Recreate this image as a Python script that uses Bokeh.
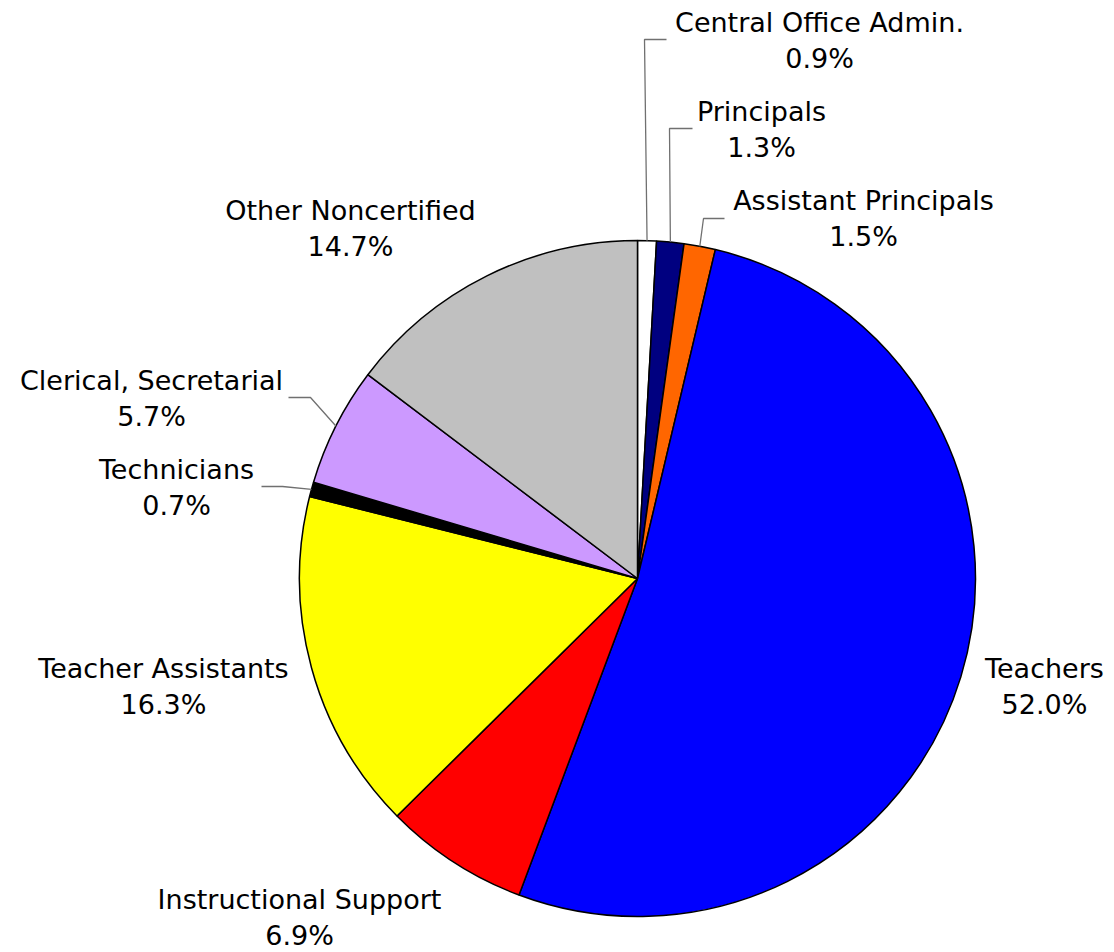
import math
from bokeh.plotting import figure
from bokeh.models import Range1d
from bokeh.core.properties import value
from bokeh.embed import file_html
from bokeh.resources import INLINE

# ---- data ----
categories = ["Central Office Admin.", "Principals", "Assistant Principals", "Teachers",
              "Instructional Support", "Teacher Assistants", "Technicians",
              "Clerical, Secretarial", "Other Noncertified"]
percents = [0.9, 1.3, 1.5, 52.0, 6.9, 16.3, 0.7, 5.7, 14.7]
colors = ["#FFFFFF", "#000080", "#FF6600", "#0000FF", "#FF0000", "#FFFF00",
          "#000000", "#CC99FF", "#C0C0C0"]

# ---- layout (pixel coordinates, y measured from top) ----
W, H = 1114, 952
CX, CY, R = 637, 578, 338
label_pos = {
    "Central Office Admin.": (819, 22),
    "Principals": (761, 111),
    "Assistant Principals": (863, 200),
    "Teachers": (1044, 668),
    "Instructional Support": (299, 899),
    "Teacher Assistants": (163, 668),
    "Technicians": (176, 469),
    "Clerical, Secretarial": (151, 380),
    "Other Noncertified": (350, 210),
}
# leader lines: elbow points after the slice edge point
leaders = {
    "Central Office Admin.": [(644, 39), (666, 39)],
    "Principals": [(669, 128), (692, 128)],
    "Assistant Principals": [(703, 218), (724, 218)],
    "Clerical, Secretarial": [(310, 397), (288, 397)],
    "Technicians": [(282, 486), (261, 486)],
}
LINE_GAP = 36
FONT = "DejaVu Sans"
FSIZE = "27px"

def fy(y):
    return H - y

p = figure(width=W, height=H, x_range=Range1d(0, W), y_range=Range1d(0, H),
           output_backend="svg", toolbar_location=None, min_border=0)
p.axis.visible = False
p.grid.visible = False
p.outline_line_color = None
p.background_fill_color = "white"
p.border_fill_color = "white"

total = sum(percents)
cum = 0.0
starts, ends, mids = [], [], []
for v in percents:
    a0 = math.pi / 2 - 2 * math.pi * cum / total
    cum += v
    a1 = math.pi / 2 - 2 * math.pi * cum / total
    starts.append(a1)
    ends.append(a0)
    mids.append((a0 + a1) / 2)

p.wedge(x=[CX] * len(percents), y=[fy(CY)] * len(percents), radius=R,
        start_angle=starts, end_angle=ends, direction="anticlock",
        fill_color=colors, line_color="black", line_width=1.5)

# leader lines
for cat, pts in leaders.items():
    i = categories.index(cat)
    m = mids[i]
    sx = CX + R * math.cos(m)
    sy = fy(CY) + R * math.sin(m)
    xs = [sx] + [q[0] for q in pts]
    ys = [sy] + [fy(q[1]) for q in pts]
    p.line(xs, ys, line_color="#707070", line_width=1.3)

# labels
for cat, v in zip(categories, percents):
    lx, ly = label_pos[cat]
    p.text(x=[lx], y=[fy(ly)], text=[cat], text_font=value(FONT), text_font_size=FSIZE,
           text_align="center", text_baseline="middle", text_color="black")
    p.text(x=[lx], y=[fy(ly + LINE_GAP)], text=[f"{v:.1f}%"], text_font=value(FONT),
           text_font_size=FSIZE, text_align="center", text_baseline="middle", text_color="black")

open("out.html", "w").write(file_html(p, INLINE))
